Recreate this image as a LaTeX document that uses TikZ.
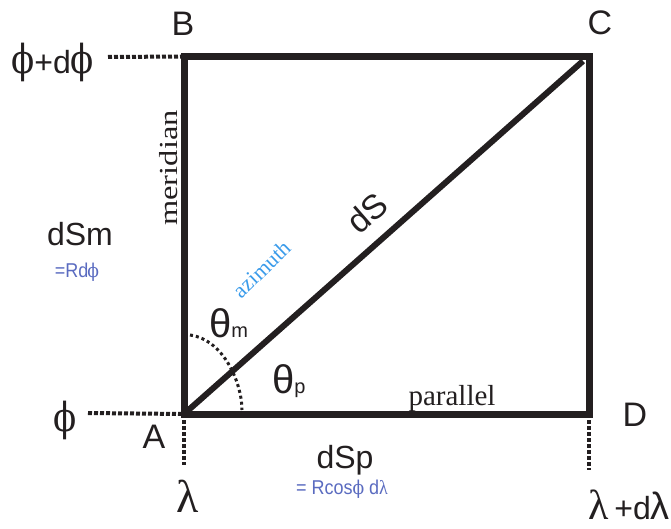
\documentclass[tikz,border=0pt]{standalone}
\usepackage{fontspec}
\setmainfont{Liberation Sans}
\newfontfamily\serifgr{Liberation Serif}
\newfontfamily\phifont{DejaVu Serif}
\definecolor{ink}{HTML}{231F20}
\definecolor{azblue}{HTML}{3A9BEA}
\definecolor{formblue}{HTML}{5A6BC0}
\newcommand{\bigphi}{{\phifont\fontsize{40}{44}\selectfont\scalebox{0.85}[1]{ϕ}}}
\begin{document}
\begin{tikzpicture}[x=1pt,y=-1pt,
  box/.style={draw=ink, line width=7pt, line join=miter},
  diag/.style={draw=ink, line width=6pt},
  guide/.style={draw=ink, line width=4pt, dash pattern=on 4pt off 2pt},
  arcdots/.style={draw=ink, line width=3pt, dash pattern=on 3pt off 3pt},
  lbl/.style={text=ink, inner sep=0pt, font=\fontsize{34}{40}\selectfont},
  greek/.style={text=ink, inner sep=0pt, font=\serifgr\fontsize{46}{50}\selectfont},
  serif/.style={text=ink, inner sep=0pt},
  formula/.style={text=formblue, inner sep=0pt, font=\fontsize{20}{24}\selectfont}
]
\useasboundingbox (0,0) rectangle (671,529);
% corners
\coordinate (A) at (184,414);
\coordinate (B) at (184,56.5);
\coordinate (C) at (589,56.5);
\coordinate (D) at (589,414);
\coordinate (Cin) at (583,61);
% guide ends
\coordinate (gB) at (108,57);
\coordinate (gA) at (88,413);
\coordinate (gAd) at (184,465);
\coordinate (gDd) at (589,470);
\coordinate (arcS) at (190,335);
\coordinate (arcE) at (242,410);
% square and diagonal
\draw[box] (A) -- (B) -- (C) -- (D) -- cycle;
\draw[diag] (A) -- (Cin);
% dotted guides
\draw[guide] (gB) -- (B);
\draw[guide] (gA) -- (A);
\draw[guide] (A) -- (gAd);
\draw[guide] (D) -- (gDd);
% angle arc
\draw[arcdots] (arcS) .. controls (225,340) and (242,385) .. (arcE);
% corner labels
\node[lbl] (lB) at (183,24) {B};
\node[lbl] (lC) at (600,23) {C};
\node[lbl] (lD) at (635,415) {D};
\node[lbl] (lA) at (154,437) {A};
% coordinate labels
\node[lbl, anchor=base west] (phidphi) at (11,74) {\bigphi{\fontsize{32}{34}\selectfont +d}\bigphi};
\node[lbl, anchor=base] (phi) at (65,431) {\bigphi};
\node[greek, anchor=base] (lam) at (188,512) {λ};
\node[lbl, anchor=base east] (lamdlam) at (670,519) {{\serifgr\fontsize{42}{46}\selectfont λ}\,{\fontsize{32}{34}\selectfont +d}{\fontsize{38}{42}\selectfont λ}};
% side labels
\node[serif, rotate=90, anchor=base] (merid) at (177,168) {\serifgr\fontsize{26}{30}\selectfont\scalebox{1.25}[1]{meridian}};
\node[serif, anchor=base] (par) at (452,405) {\serifgr\fontsize{29}{32}\selectfont parallel};
\node[lbl, anchor=base] (dSm) at (80,245) {\fontsize{32}{36}\selectfont dSm};
\node[formula, anchor=base] (Rdphi) at (77,277) {\scalebox{0.9}[1]{=Rd\kern-1pt{\phifont\fontsize{19}{22}\selectfont ϕ}}};
\node[lbl, anchor=base] (dSp) at (345,468) {\fontsize{32}{36}\selectfont dSp};
\node[formula, anchor=base] (Rcos) at (342,494) {\scalebox{0.9}[1]{= Rcos{\phifont\fontsize{19}{22}\selectfont ϕ} d{\serifgr λ}}};
% diagonal labels
\node[lbl, rotate=41] (dS) at (367,213) {dS};
\node[serif, rotate=44, text=azblue] (azi) at (262,269) {\serifgr\fontsize{22}{26}\selectfont azimuth};
% angle labels
\node[lbl, anchor=base west] (thm) at (209,337) {{\fontsize{40}{44}\selectfont θ}{\fontsize{20}{24}\selectfont m}};
\node[lbl, anchor=base west] (thp) at (272,393) {{\fontsize{40}{44}\selectfont θ}{\fontsize{20}{24}\selectfont p}};
\end{tikzpicture}
\end{document}
